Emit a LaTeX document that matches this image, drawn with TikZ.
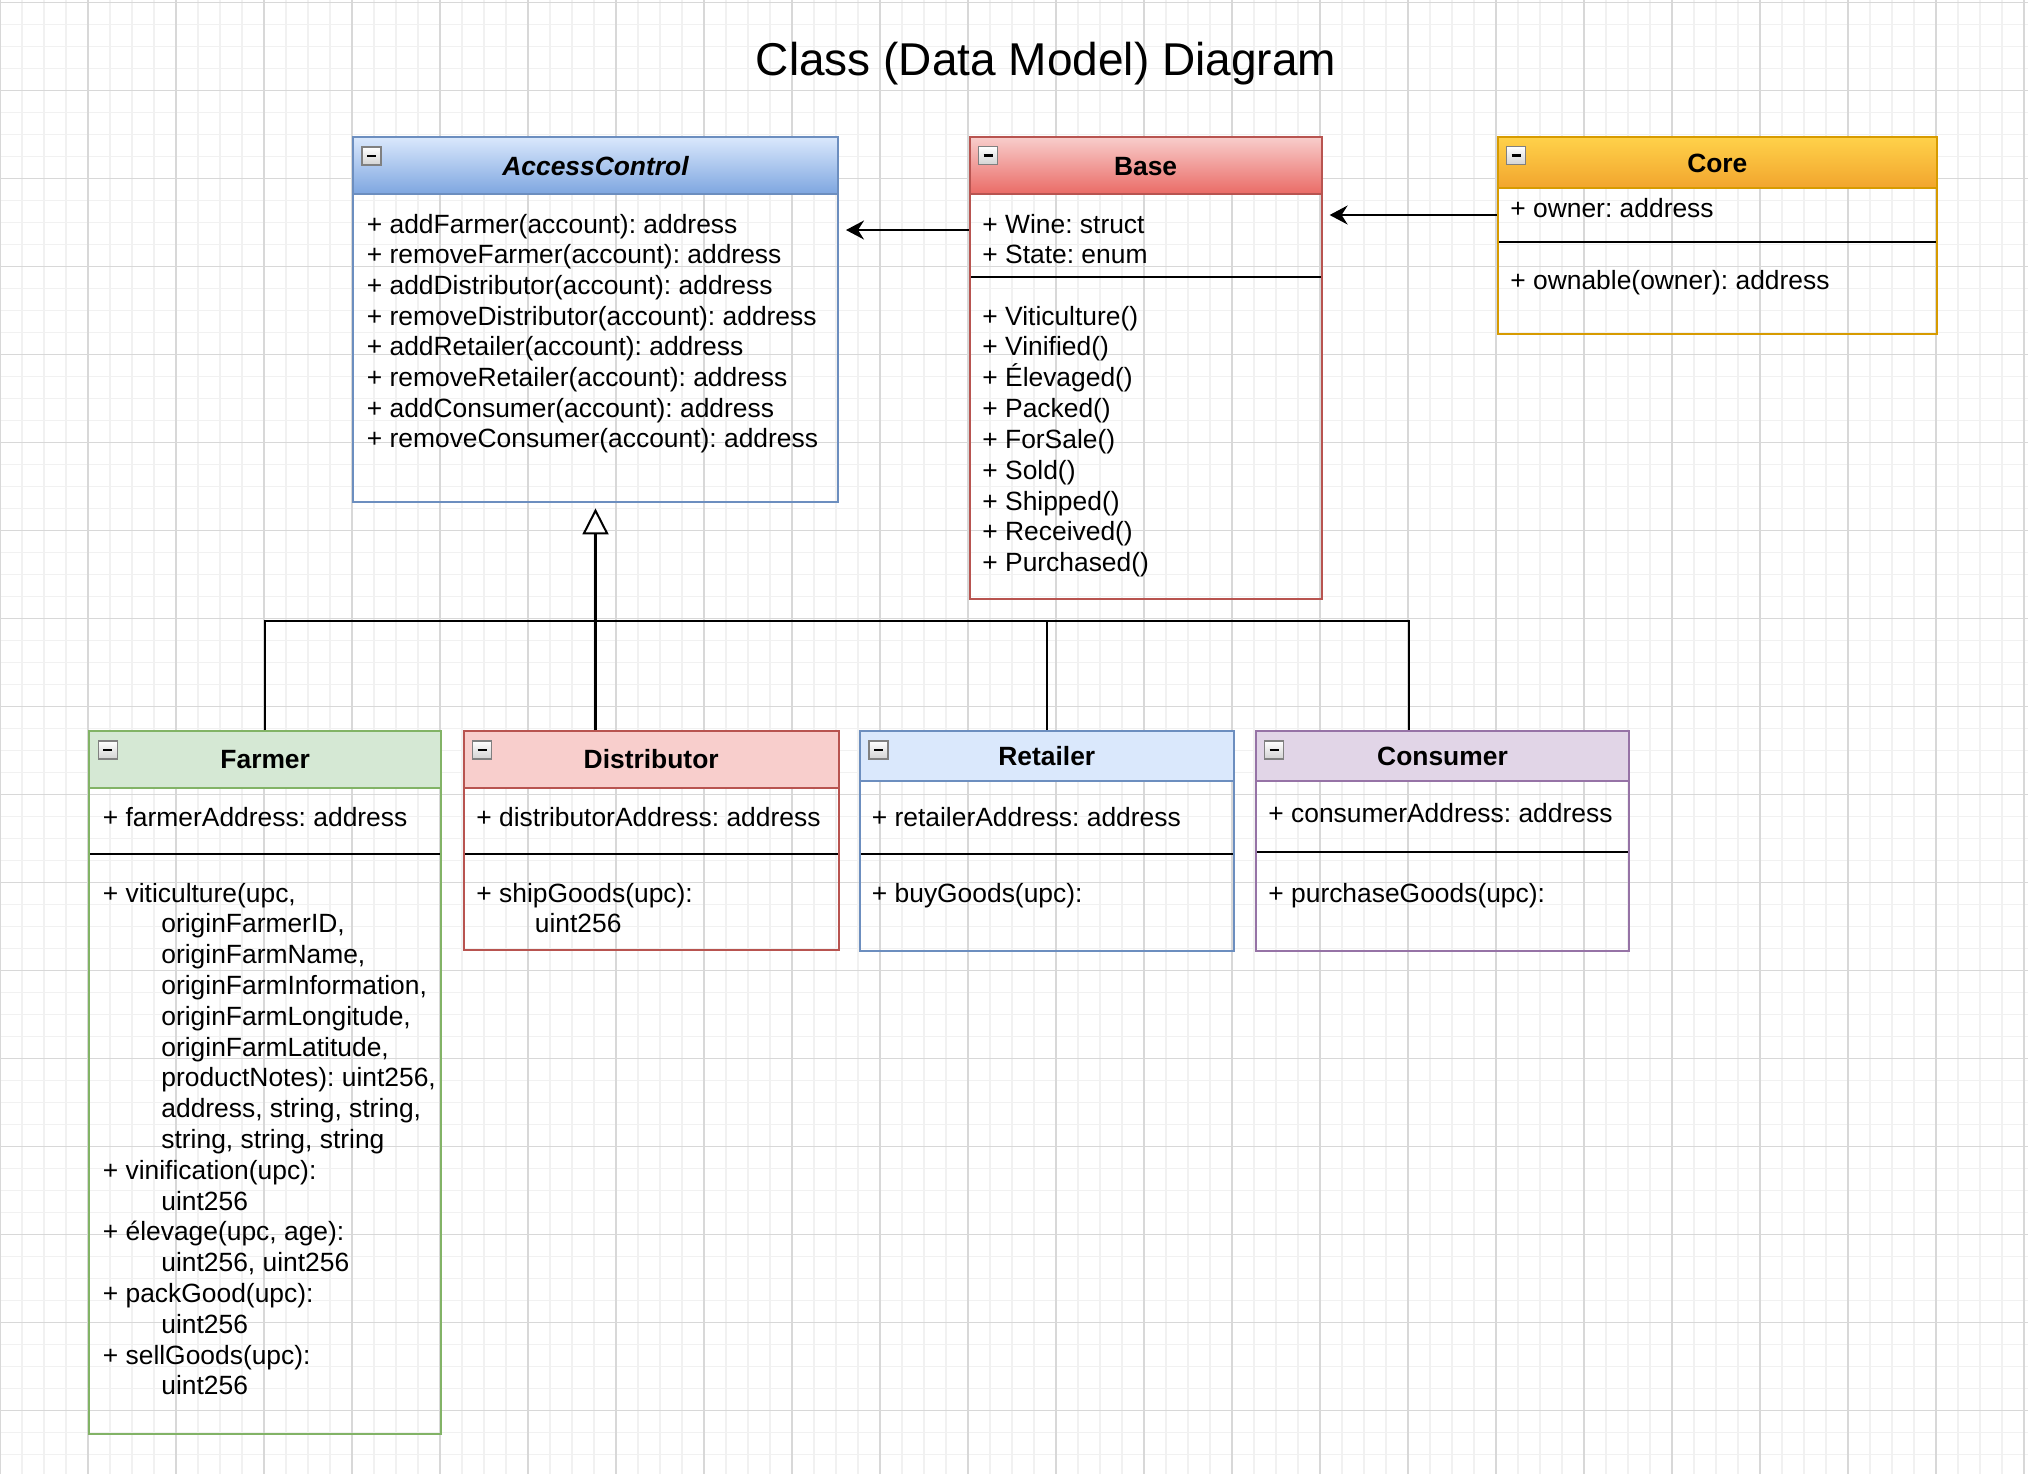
\documentclass[tikz,border=0pt]{standalone}
\usepackage{fontspec}
\setmainfont{Liberation Sans}
\usetikzlibrary{arrows.meta,fit}

\definecolor{acTop}{HTML}{DAE8FC}
\definecolor{acBot}{HTML}{7EA6E0}
\definecolor{acLine}{HTML}{6C8EBF}
\definecolor{baseTop}{HTML}{F8CECC}
\definecolor{baseBot}{HTML}{EA6B66}
\definecolor{baseLine}{HTML}{B85450}
\definecolor{coreTop}{HTML}{FFD24A}
\definecolor{coreBot}{HTML}{F2A52E}
\definecolor{coreLine}{HTML}{D79B00}
\definecolor{farmerFill}{HTML}{D5E8D4}
\definecolor{farmerLine}{HTML}{82B366}
\definecolor{purpleFill}{HTML}{E1D5E7}
\definecolor{purpleLine}{HTML}{9673A6}
\definecolor{minorGrid}{HTML}{F1F1F1}
\definecolor{majorGrid}{HTML}{D8D8D8}

\tikzset{
  ac head/.style={top color=acTop, bottom color=acBot},
  ac line/.style={draw=acLine, line width=1pt},
  base head/.style={top color=baseTop, bottom color=baseBot},
  base line/.style={draw=baseLine, line width=1pt},
  core head/.style={top color=coreTop, bottom color=coreBot},
  core line/.style={draw=coreLine, line width=1pt},
  farmer head/.style={fill=farmerFill},
  farmer line/.style={draw=farmerLine, line width=1pt},
  dist head/.style={fill=baseTop},
  dist line/.style={draw=baseLine, line width=1pt},
  retailer head/.style={fill=acTop},
  retailer line/.style={draw=acLine, line width=1pt},
  consumer head/.style={fill=purpleFill},
  consumer line/.style={draw=purpleLine, line width=1pt},
  collapse/.style={draw=gray, line width=0.6pt, top color=white, bottom color=gray!35,
    minimum width=9.5pt, minimum height=9pt, inner sep=0pt,
    path picture={\draw[line width=1.3pt, black]
      ([xshift=2.5pt]path picture bounding box.west) -- ([xshift=-2.5pt]path picture bounding box.east);}},
  member/.style={anchor=base west, inner sep=0pt, font=\fontsize{13.2}{15.8}\selectfont},
  headtext/.style={anchor=base, inner sep=0pt, font=\fontsize{13.2}{15.8}\selectfont\bfseries},
  assoc/.style={line width=1pt, -{Stealth[length=9pt, width=9.5pt, inset=3pt]}, shorten >=3.5pt},
  inherit/.style={line width=1.4pt, -{Triangle[fill=white, length=13pt, width=13pt, line width=1pt]}, shorten >=2.7pt},
  tree/.style={line width=1pt}
}

% name, colours, top left, bottom right, header line, separator line
\newcommand{\umlclass}[8]{%
  \path[#2 head] (#3,#4) rectangle (#5,#7);
  \draw[line width=1pt] (#3,#8) -- (#5,#8);
  \draw[#2 line] (#3,#7) -- (#5,#7);
  \node[fit={(#3,#4) (#5,#6)}, #2 line, inner sep=0pt] (#1) {};
  \node[collapse] (#1-min) at (#3+18.5,#4+19) {};
}

\begin{document}
\frenchspacing
\begin{tikzpicture}[x=0.5pt, y=-0.5pt]
  \useasboundingbox (0,0) rectangle (2028,1474);
  \fill[white] (0,0) rectangle (2028,1474);

  % grid
  \foreach \x in {0,22,...,2028} \draw[minorGrid, line width=0.75pt] (\x,0) -- (\x,1474);
  \foreach \y in {2.3,24.3,...,1474} \draw[minorGrid, line width=0.75pt] (0,\y) -- (2028,\y);
  \foreach \x in {0,88,...,2028} \draw[majorGrid, line width=0.75pt] (\x,0) -- (\x,1474);
  \foreach \y in {2.3,90.3,...,1474} \draw[majorGrid, line width=0.75pt] (0,\y) -- (2028,\y);

  \node[font=\fontsize{23}{27}\selectfont, anchor=base, inner sep=0pt] (title) at (1046,75) {Class (Data Model) Diagram};

  % classes
  \umlclass{ac}{ac}{353}{137}{838}{502}{194}{194}
  \umlclass{base}{base}{969.6}{136.7}{1321.6}{598.7}{194}{277}
  \umlclass{core}{core}{1497.6}{136.7}{1937}{334.3}{187.7}{242.3}
  \umlclass{farmer}{farmer}{89.2}{731}{441.2}{1434}{788.3}{854}
  \umlclass{dist}{dist}{463.7}{731}{838.7}{950}{788.3}{854}
  \umlclass{retailer}{retailer}{860}{731}{1233.5}{950.7}{781}{854}
  \umlclass{consumer}{consumer}{1255.5}{731}{1629.4}{950.7}{781}{851.7}

  % AccessControl
  \node[headtext] (ac-name) at (595.5,175) {\itshape AccessControl};
  \foreach \m [count=\i from 0] in {addFarmer, removeFarmer, addDistributor, removeDistributor,
      addRetailer, removeRetailer, addConsumer, removeConsumer}
    \node[member] (ac-m\i) at (366.5,233+30.7*\i) {+ \m(account): address};

  % Base
  \node[headtext] (base-name) at (1145.6,175) {Base};
  \node[member] (base-a1) at (982,233) {+ Wine: struct};
  \node[member] (base-a2) at (982,263) {+ State: enum};
  \foreach \m [count=\i from 0] in {Viticulture, Vinified, Élevaged, Packed, ForSale,
      Sold, Shipped, Received, Purchased}
    \node[member] (base-m\i) at (982,325+30.85*\i) {+ \m()};

  % Core
  \node[headtext] (core-name) at (1717.3,172) {Core};
  \node[member] (core-a) at (1510,217) {+ owner: address};
  \node[member] (core-m) at (1510,289.5) {+ ownable(owner): address};

  % Farmer
  \node[headtext] (farmer-name) at (265.2,768) {Farmer};
  \node[member] (farmer-a) at (102.5,826) {+ farmerAddress: address};
  \foreach \x/\t [count=\i from 0] in {102.5/{+ viticulture(upc,}, 161/{originFarmerID,},
      161/{originFarmName,}, 161/{originFarmInformation,}, 161/{originFarmLongitude,},
      161/{originFarmLatitude,}, 161/{productNotes): uint256,}, 161/{address, string, string,},
      161/{string, string, string}, 102.5/{+ vinification(upc):}, 161/uint256,
      102.5/{+ élevage(upc, age):}, 161/{uint256, uint256}, 102.5/{+ packGood(upc):},
      161/uint256, 102.5/{+ sellGoods(upc):}, 161/uint256}
    \node[member] (farmer-m\i) at (\x,902+30.8*\i) {\t};

  % Distributor
  \node[headtext] (dist-name) at (651.2,768) {Distributor};
  \node[member] (dist-a) at (476,826) {+ distributorAddress: address};
  \node[member] (dist-m1) at (476,902) {+ shipGoods(upc):};
  \node[member] (dist-m2) at (534.5,932.8) {uint256};

  % Retailer
  \node[headtext] (retailer-name) at (1046.8,765.5) {Retailer};
  \node[member] (retailer-a) at (871.5,826) {+ retailerAddress: address};
  \node[member] (retailer-m) at (871.5,902) {+ buyGoods(upc):};

  % Consumer
  \node[headtext] (consumer-name) at (1442.5,765.5) {Consumer};
  \node[member] (consumer-a) at (1268,822) {+ consumerAddress: address};
  \node[member] (consumer-m) at (1268,902) {+ purchaseGoods(upc):};

  % connectors
  \coordinate (link1) at (0,215);
  \coordinate (link2) at (0,230);
  \coordinate (bus) at (0,620.7);
  \draw[assoc] (core.west |- link1) -- (base.east |- link1);
  \draw[assoc] (base.west |- link2) -- (ac.east |- link2);
  \draw[tree] (farmer.north) |- (ac.south |- bus);
  \draw[tree] (retailer.north) |- (ac.south |- bus);
  \draw[tree] ([xshift=-16.5pt]consumer.north) |- (ac.south |- bus);
  \draw[inherit] (dist.north -| ac.south) -- (ac.south);
\end{tikzpicture}
\end{document}
